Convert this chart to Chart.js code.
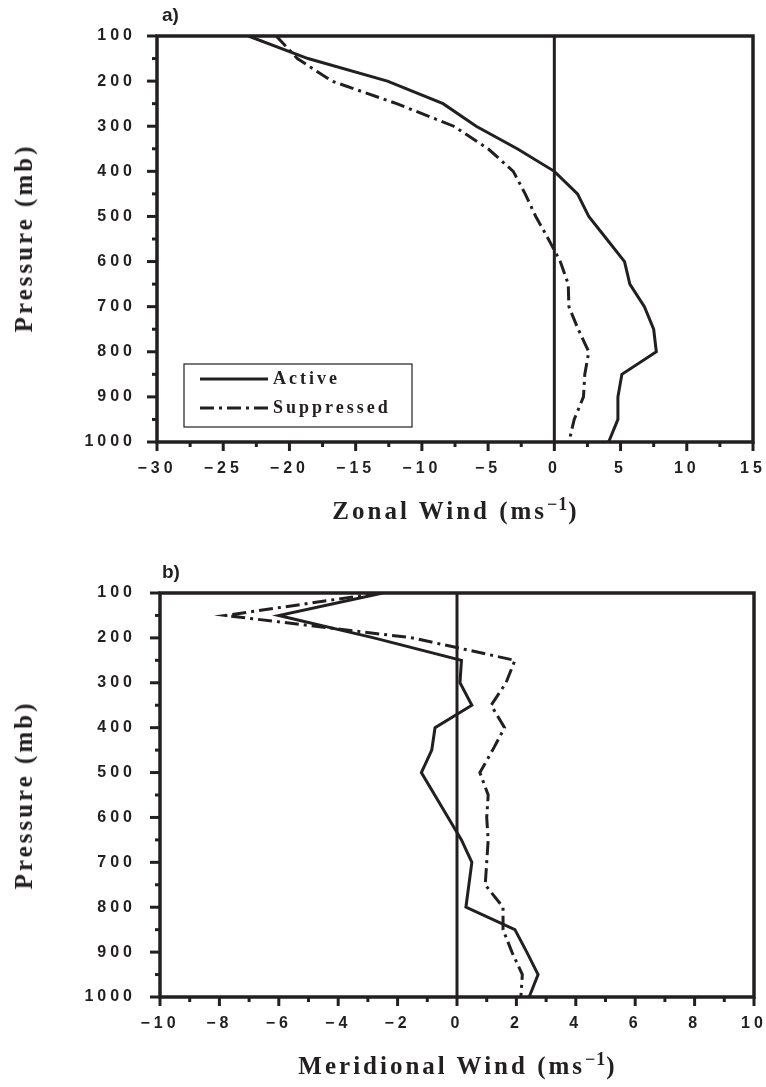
<!DOCTYPE html>
<html>
<head>
<meta charset="utf-8">
<script src="https://cdn.jsdelivr.net/npm/chart.js@4.4.1/dist/chart.umd.min.js"></script>
<style>
  body { margin: 0; background: #fff; }
  #page { position: relative; width: 766px; height: 1087px; overflow: hidden; }
  canvas { position: absolute; left: 0; }
  .lbl { position: absolute; color: #231f20; white-space: nowrap; }
  .panel { font: bold 19px "Liberation Sans", Arial, sans-serif; }
  .title { font: bold 25px "Liberation Serif", "Times New Roman", serif; letter-spacing: 3px; transform: translate(-50%, -50%); }
  .title sup { font-size: 72%; line-height: 0; letter-spacing: 1px; }
  .rot { transform: translate(-50%, -50%) rotate(-90deg); }
</style>
</head>
<body>
<div id="page">
  <canvas id="zonal" width="766" height="543" style="top:0"></canvas>
  <canvas id="merid" width="766" height="544" style="top:543px"></canvas>

  <div class="lbl panel" style="left:162px; top:4px">a)</div>
  <div class="lbl panel" style="left:162px; top:561px">b)</div>
  <div class="lbl title rot" style="left:24px; top:238px">Pressure (mb)</div>
  <div class="lbl title rot" style="left:24px; top:795px">Pressure (mb)</div>
  <div class="lbl title" style="left:456px; top:511px">Zonal Wind (ms<sup>&minus;1</sup>)</div>
  <div class="lbl title" style="left:458px; top:1066px">Meridional Wind (ms<sup>&minus;1</sup>)</div>
</div>
<script>
const ink = '#231f20';

// pressure levels (mb)
const pressure = [100, 150, 200, 250, 300, 350, 400, 450, 500, 550, 600, 650, 700, 750, 800, 850, 900, 950, 1000];

// a) zonal wind (m/s)
const zonalActive     = [-23.1, -18.6, -12.6, -8.4, -5.9, -2.8, 0.0, 1.75, 2.6, 3.95, 5.3, 5.7, 6.8, 7.5, 7.7, 5.1, 4.8, 4.8, 4.1];
const zonalSuppressed = [-21.0, -19.4, -16.8, -11.9, -7.6, -5.0, -3.1, -2.2, -1.4, -0.45, 0.45, 1.05, 1.1, 1.8, 2.6, 2.3, 2.2, 1.5, 1.1];

// b) meridional wind (m/s)
const meridActive     = [-2.5, -6.0, -2.8, 0.15, 0.1, 0.5, -0.74, -0.85, -1.2, -0.75, -0.3, 0.15, 0.5, 0.4, 0.3, 1.95, 2.35, 2.73, 2.43];
const meridSuppressed = [-2.6, -7.8, -1.5, 1.95, 1.65, 1.15, 1.6, 1.2, 0.77, 1.05, 1.0, 1.05, 1.0, 0.95, 1.55, 1.55, 1.85, 2.2, 2.15];

// tick labels
const pressureTicks = [100, 200, 300, 400, 500, 600, 700, 800, 900, 1000];
const zonalTicks = [-30, -25, -20, -15, -10, -5, 0, 5, 10, 15];
const meridTicks = [-10, -8, -6, -4, -2, 0, 2, 4, 6, 8, 10];

const seriesNames = ['Active', 'Suppressed'];
const dashDot = [14, 5, 3, 5];

function points(values) {
    return values.map((v, i) => ({ x: v, y: pressure[i] }));
}

function line(ctx, x1, y1, x2, y2) {
    ctx.beginPath();
    ctx.moveTo(x1, y1);
    ctx.lineTo(x2, y2);
    ctx.stroke();
}

// spaced out tick lettering like the original figure
const spacing = {
    id: 'spacing',
    beforeLayout(chart) { chart.ctx.letterSpacing = '4px'; },
    beforeDraw(chart) { chart.ctx.letterSpacing = '4px'; }
};

// box, zero line, major/minor tick marks and the boxed legend
const frame = {
    id: 'frame',
    afterDraw(chart) {
        const { ctx, chartArea: a } = chart;
        const x = chart.scales.x, y = chart.scales.y;
        ctx.save();
        ctx.strokeStyle = ink;
        ctx.lineCap = 'butt';

        ctx.lineWidth = 3;
        const x0 = x.getPixelForValue(0);
        line(ctx, x0, a.top, x0, a.bottom);

        x.ticks.forEach((t, i) => {
            const px = x.getPixelForValue(t.value);
            line(ctx, px, a.bottom, px, a.bottom + 9);
            const next = x.ticks[i + 1];
            if (next) {
                const pm = x.getPixelForValue((t.value + next.value) / 2);
                line(ctx, pm, a.bottom, pm, a.bottom + 5);
            }
        });
        y.ticks.forEach((t, i) => {
            const py = y.getPixelForValue(t.value);
            line(ctx, a.left, py, a.left - 10, py);
            const next = y.ticks[i + 1];
            if (next) {
                const pm = y.getPixelForValue((t.value + next.value) / 2);
                line(ctx, a.left, pm, a.left - 5, pm);
            }
        });

        ctx.lineWidth = 3.5;
        ctx.strokeRect(a.left, a.top, a.right - a.left, a.bottom - a.top);

        const lg = chart.options.plugins.frame;
        if (lg && lg.legend) {
            const bx = a.left + 27, by = a.bottom - 78, bw = 228, bh = 63;
            ctx.lineWidth = 1.2;
            ctx.setLineDash([]);
            ctx.strokeRect(bx, by, bw, bh);
            ctx.font = 'bold 18px "Liberation Serif", "Times New Roman", serif';
            ctx.letterSpacing = '3px';
            ctx.fillStyle = ink;
            ctx.textBaseline = 'middle';
            chart.data.datasets.forEach((ds, i) => {
                const ly = by + 15 + i * 29;
                ctx.lineWidth = 3;
                ctx.setLineDash(ds.borderDash || []);
                line(ctx, bx + 16, ly, bx + 84, ly);
                ctx.setLineDash([]);
                ctx.fillText(ds.label, bx + 89, ly);
            });
        }
        ctx.restore();
    }
};

function makeChart(id, active, suppressed, xTicks, opts) {
    const tickFont = { family: '"Liberation Sans", Arial, sans-serif', size: 16, weight: 'bold' };
    return new Chart(document.getElementById(id), {
        type: 'scatter',
        data: {
            datasets: [{
                label: seriesNames[0],
                data: points(active),
                showLine: true,
                borderColor: ink,
                borderWidth: 3,
                pointRadius: 0,
                tension: 0
            }, {
                label: seriesNames[1],
                data: points(suppressed),
                showLine: true,
                borderColor: ink,
                borderWidth: 3,
                borderDash: dashDot,
                pointRadius: 0,
                tension: 0
            }]
        },
        options: {
            responsive: false,
            animation: false,
            layout: { padding: { top: opts.top, right: opts.right, left: 0, bottom: 0 } },
            plugins: {
                legend: { display: false },
                tooltip: { enabled: false },
                frame: { legend: opts.legend }
            },
            scales: {
                x: {
                    type: 'linear',
                    min: xTicks[0],
                    max: xTicks[xTicks.length - 1],
                    afterBuildTicks: s => { s.ticks = xTicks.map(v => ({ value: v })); },
                    afterFit: s => {
                        s.height = opts.bottom;
                        s.paddingLeft = 0;
                        s.paddingRight = 0;
                    },
                    grid: { display: false, drawTicks: false },
                    border: { display: false },
                    ticks: {
                        font: tickFont,
                        color: ink,
                        padding: 17,
                        maxRotation: 0,
                        autoSkip: false,
                        callback: v => String(v).replace('-', '\u2212')
                    }
                },
                y: {
                    type: 'linear',
                    reverse: true,
                    min: pressureTicks[0],
                    max: pressureTicks[pressureTicks.length - 1],
                    afterBuildTicks: s => { s.ticks = pressureTicks.map(v => ({ value: v })); },
                    afterFit: s => {
                        s.width = opts.left;
                        s.paddingTop = 0;
                        s.paddingBottom = 0;
                    },
                    grid: { display: false, drawTicks: false },
                    border: { display: false },
                    ticks: {
                        font: tickFont,
                        color: ink,
                        padding: opts.left - 136,
                        autoSkip: false,
                        callback: v => String(v)
                    }
                }
            }
        },
        plugins: [spacing, frame]
    });
}

makeChart('zonal', zonalActive, zonalSuppressed, zonalTicks,
    { top: 36, right: 13, left: 157, bottom: 101, legend: true });
makeChart('merid', meridActive, meridSuppressed, meridTicks,
    { top: 50, right: 12, left: 160, bottom: 90, legend: false });
</script>
</body>
</html>
